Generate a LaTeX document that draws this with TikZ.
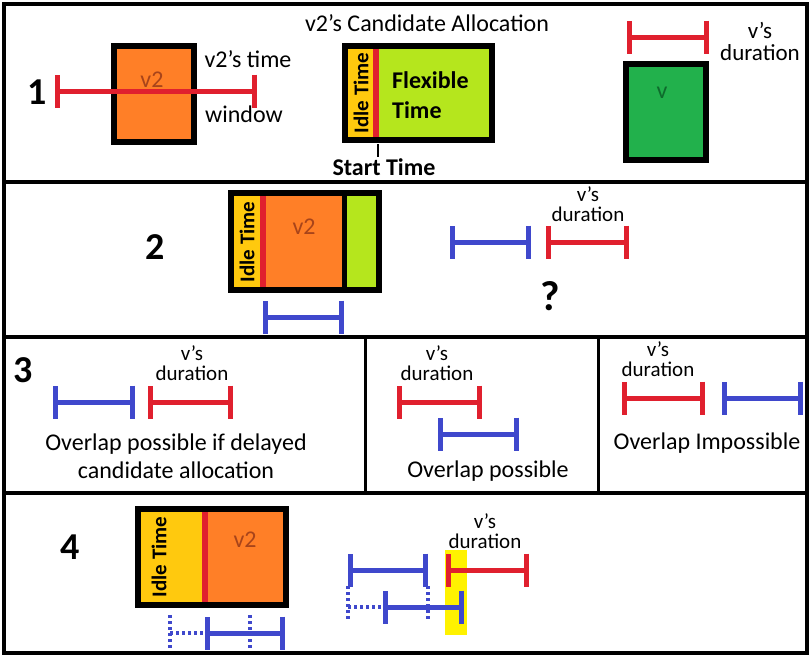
\documentclass[tikz,border=0pt]{standalone}
\usepackage{fontspec}
\setmainfont{Carlito}
\usepackage{xcolor}
\usepackage{tikz}
\usetikzlibrary{arrows.meta}

\definecolor{boxorange}{HTML}{FF7F27}
\definecolor{idlegold}{HTML}{FFC90E}
\definecolor{flexlime}{HTML}{B5E61D}
\definecolor{vgreen}{HTML}{22B14C}
\definecolor{barred}{HTML}{E0202E}
\definecolor{barblue}{HTML}{3F48CC}
\definecolor{hilite}{HTML}{FFF200}
\definecolor{vtwotext}{HTML}{A8441A}
\definecolor{vtext}{HTML}{0E6B2C}

\begin{document}
\begin{tikzpicture}[%
  x=1pt, y=-1pt,
  every node/.style={align=center, inner sep=0pt},
  frame/.style={line width=4pt},
  divider/.style={line width=3pt},
  taskbox/.style={draw=black, line width=6pt},
  num/.style={font=\fontsize{38}{38}\selectfont\bfseries},
  lbl/.style={font=\fontsize{24}{28}\selectfont},
  dur/.style={font=\fontsize{21}{20}\selectfont},
  idle/.style={rotate=90, font=\fontsize{21}{21}\selectfont\bfseries},
  durbar/.style={line width=5pt, {Bar[width=33pt]}-{Bar[width=33pt]}},
  redbar/.style={durbar, draw=barred},
  bluebar/.style={durbar, draw=barblue},
  ghost/.style={draw=barblue, line width=4pt, dash pattern=on 3pt off 3pt}
]
\useasboundingbox (0,0) rectangle (811,657);

% frame and panels
\draw[frame] (4,4) rectangle (807,653);
\draw[frame] (4,182) -- (807,182);
\draw[frame] (4,337) -- (807,337);
\draw[frame] (4,493) -- (807,493);
\draw[divider] (365,337) -- (365,493);
\draw[divider] (598,337) -- (598,493);

% 1. time window, candidate allocation, v
\node[num] (n1) at (37,92) {1};
\draw[taskbox, fill=boxorange] (114,46) rectangle (194,142);
\node[lbl, text=vtwotext] (v2a) at (152,80) {v2};
\draw[redbar] (55,91) -- (257,91);
\node[lbl] (win1) at (248,59) {v2's time};
\node[lbl] (win2) at (244,114) {window};

\node[lbl] (cand) at (427,23) {v2's Candidate Allocation};
\draw[taskbox, fill=flexlime] (345,46) rectangle (492,140);
\fill[idlegold] (348,49) rectangle (373,137);
\draw[barred, line width=6pt] (376,49) -- (376,137);
\node[idle] (idle1) at (361,93) {Idle Time};
\node[font=\fontsize{24}{30}\selectfont\bfseries, align=left, anchor=west] (flex) at (392,95) {Flexible\\Time};
\draw[line width=2.5pt] (378,144) -- (378,157);
\node[font=\fontsize{24}{24}\selectfont\bfseries] (start) at (384,167) {Start Time};

\draw[redbar] (627,37) -- (709,37);
\node[font=\fontsize{23}{22}\selectfont] (dur1) at (760,41) {v's\\duration};
\draw[taskbox, fill=vgreen] (626,64) rectangle (706,160);
\node[lbl, text=vtext] (v1) at (662,93) {v};

% 2. v2 placed, v's duration after
\node[num] (n2) at (155,247) {2};
\draw[taskbox, fill=flexlime] (231,193) rectangle (379,290);
\fill[idlegold] (234,196) rectangle (260,287);
\fill[boxorange] (266,196) rectangle (342,287);
\draw[black, line width=5pt] (344.5,196) -- (344.5,287);
\draw[barred, line width=6pt] (263,196) -- (263,287);
\node[idle] (idle2) at (247,242) {Idle Time};
\node[lbl, text=vtwotext] (v2b) at (304,227) {v2};
\draw[bluebar] (263,317) -- (344,317);
\draw[bluebar] (450,242) -- (531,242);
\draw[redbar] (546,242) -- (629,242);
\node[dur] (dur2) at (588,204) {v's\\duration};
\node[font=\fontsize{42}{42}\selectfont\bfseries] (q) at (550,296) {?};

% 3. three cases
\node[num] (n3) at (23,370) {3};
\draw[bluebar] (53,402) -- (135,402);
\draw[redbar] (148,402) -- (233,402);
\node[dur] (dur3a) at (192,363) {v's\\duration};
\node[lbl] (case1) at (176,456) {Overlap possible if delayed\\candidate allocation};

\draw[redbar] (397,402) -- (482,402);
\draw[bluebar] (438,434) -- (519,434);
\node[dur] (dur3b) at (437,363) {v's\\duration};
\node[lbl] (case2) at (488,471) {Overlap possible};

\draw[redbar] (622,398) -- (705,398);
\draw[bluebar] (722,398) -- (803,398);
\node[dur] (dur3c) at (658,359) {v's\\duration};
\node[lbl] (case3) at (707,443) {Overlap Impossible};

% 4. delayed allocation
\node[num] (n4) at (70,547) {4};
\draw[taskbox, fill=boxorange] (138,509) rectangle (286,605);
\fill[idlegold] (141,512) rectangle (205,602);
\draw[barred, line width=6pt] (205,512) -- (205,602);
\node[idle] (idle4) at (159,557) {Idle Time};
\node[lbl, text=vtwotext] (v2c) at (245,540) {v2};
\draw[ghost] (170,615) -- (170,648);
\draw[ghost] (170,633) -- (205,633);
\draw[ghost] (250,615) -- (250,648);
\draw[bluebar] (205,633) -- (285,633);

\fill[hilite] (445,550) rectangle (467,635);
\draw[bluebar] (348,570) -- (428,570);
\draw[ghost] (348,586) -- (348,620);
\draw[ghost] (428,586) -- (428,620);
\draw[ghost] (348,607) -- (383,607);
\draw[bluebar] (383,607) -- (464,607);
\draw[redbar] (446,570) -- (529,570);
\node[dur] (dur4) at (485,531) {v's\\duration};

\end{tikzpicture}
\end{document}
